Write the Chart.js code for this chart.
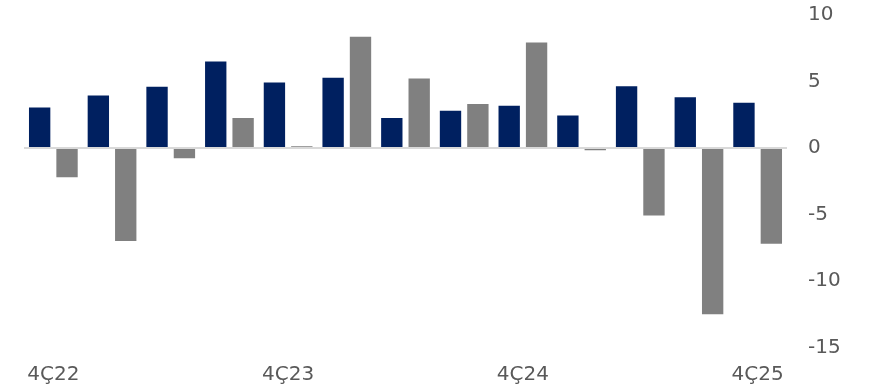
<!DOCTYPE html>
<html>
<head>
<meta charset="utf-8">
<script src="https://cdn.jsdelivr.net/npm/chart.js@4/dist/chart.umd.min.js"></script>
<style>
  html, body { margin: 0; padding: 0; background: #ffffff; }
  #wrap { width: 879px; height: 390px; position: relative; }
</style>
</head>
<body>
<div id="wrap"><canvas id="c" width="879" height="390"></canvas></div>
<script>
const categories = ["4Ç22","1Ç23","2Ç23","3Ç23","4Ç23","1Ç24","2Ç24","3Ç24","4Ç24","1Ç25","2Ç25","3Ç25","4Ç25"];
const seriesNavy = [3.05, 3.94, 4.6, 6.5, 4.92, 5.28, 2.25, 2.8, 3.18, 2.45, 4.64, 3.81, 3.41];
const seriesGray = [-2.2, -7.0, -0.78, 2.25, 0.13, 8.36, 5.23, 3.31, 7.93, -0.17, -5.08, -12.5, -7.2];
const yTicks = [-15, -10, -5, 0, 5, 10];

const textColor = '#595959';
const fontFamily = '"DejaVu Sans", Verdana, sans-serif';

new Chart(document.getElementById('c'), {
  type: 'bar',
  data: {
    labels: categories,
    datasets: [
      { data: seriesNavy, backgroundColor: '#002060', categoryPercentage: 0.933, barPercentage: 0.78 },
      { data: seriesGray, backgroundColor: '#808080', categoryPercentage: 0.933, barPercentage: 0.78 }
    ]
  },
  options: {
    responsive: false,
    animation: false,
    devicePixelRatio: 1,
    layout: { padding: { left: 24, right: 0, top: 15, bottom: 3.5 } },
    plugins: { legend: { display: false }, tooltip: { enabled: false } },
    scales: {
      x: {
        grid: { display: false, drawTicks: false },
        border: { display: false },
        afterFit: function(scale) { scale.paddingLeft = 0; scale.paddingRight = 0; scale.height = 39; },
        ticks: {
          autoSkip: false,
          maxRotation: 0,
          padding: 15,
          color: textColor,
          font: { family: fontFamily, size: 20 },
          callback: function(v, i) { return i % 4 === 0 ? categories[i] : ''; }
        }
      },
      y: {
        position: 'right',
        min: yTicks[0],
        max: yTicks[yTicks.length - 1],
        afterBuildTicks: function(scale) { scale.ticks = yTicks.map(v => ({ value: v })); },
        afterFit: function(scale) { scale.width = 92; scale.paddingTop = 0; scale.paddingBottom = 0; },
        grid: {
          drawTicks: false,
          color: ctx => (ctx.tick && ctx.tick.value === 0) ? '#d9d9d9' : 'rgba(0,0,0,0)',
          lineWidth: 2
        },
        border: { display: false },
        ticks: {
          padding: 21,
          color: textColor,
          font: { family: fontFamily, size: 20 }
        }
      }
    }
  }
});
</script>
</body>
</html>
